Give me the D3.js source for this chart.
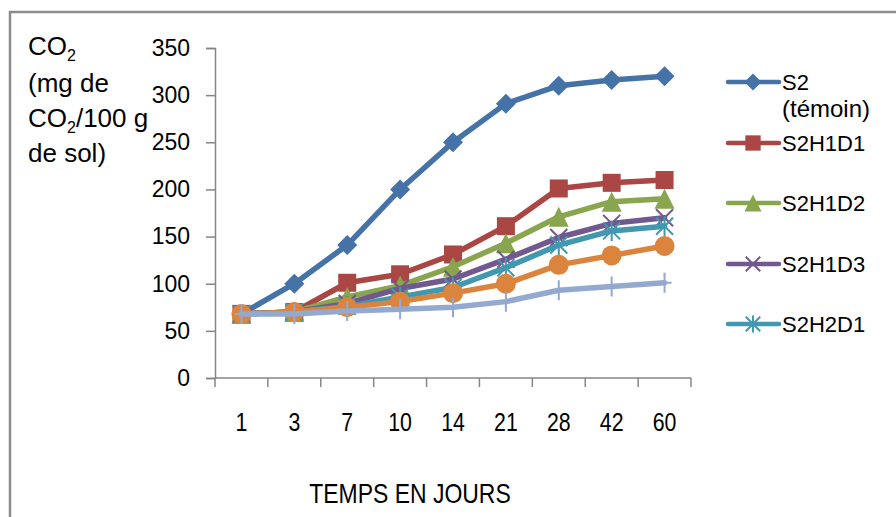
<!DOCTYPE html>
<html>
<head>
<meta charset="utf-8">
<script src="https://cdn.jsdelivr.net/npm/d3@7"></script>
<style>
  html, body { margin: 0; padding: 0; background: #fff; }
  svg { display: block; font-family: "Liberation Sans", Arial, sans-serif; }
</style>
</head>
<body>
<svg id="chart" width="896" height="517"></svg>
<script>
// Days of incubation (category axis)
const days = ["1", "3", "7", "10", "14", "21", "28", "42", "60"];

// Cumulative CO2 release (mg CO2 / 100 g soil)
const s2Temoin = [68, 100, 141, 200, 250, 291, 310, 316, 320];
const s2h1d1   = [68, 70, 101, 110, 131, 161, 201, 207, 210];
const s2h1d2   = [68, 70, 86, 98, 118, 143, 171, 187, 190];
const s2h1d3   = [68, 70, 79, 95, 105, 126, 149, 164, 170];
const s2h2d1   = [68, 70, 76, 86, 96, 117, 141, 156, 161];
const s2h2d2   = [68, 70, 75, 81, 90, 100, 120, 130, 140];
const s2h2d3   = [68, 68, 71, 73, 75, 81, 93, 97, 101];

const yTicks = [0, 50, 100, 150, 200, 250, 300, 350];

const series = [
  { name: "S2\n(témoin)", values: s2Temoin, color: "#4572A7", marker: "diamond", legend: true },
  { name: "S2H1D1", values: s2h1d1, color: "#AA4643", marker: "square", legend: true },
  { name: "S2H1D2", values: s2h1d2, color: "#89A54E", marker: "triangle", legend: true },
  { name: "S2H1D3", values: s2h1d3, color: "#71588F", marker: "x", legend: true },
  { name: "S2H2D1", values: s2h2d1, color: "#4198AF", marker: "star", legend: true },
  { name: "S2H2D2", values: s2h2d2, color: "#DB843D", marker: "circle", legend: false },
  { name: "S2H2D3", values: s2h2d3, color: "#93A9CF", marker: "plus", legend: false }
];

const svg = d3.select("#chart");

// Outer chart frame (extends past the right and bottom edges)
svg.append("path")
  .attr("d", "M10,530 L10,12 L910,12")
  .attr("fill", "none")
  .attr("stroke", "#8c8c8c")
  .attr("stroke-width", 2.5);

const plot = { left: 215, right: 691, top: 48, bottom: 378 };

const x = d3.scaleBand().domain(days).range([plot.left, plot.right]);
const y = d3.scaleLinear().domain([0, 350]).range([plot.bottom, plot.top]);

// Y axis
const yAxis = svg.append("g")
  .attr("transform", `translate(${plot.left},0)`)
  .call(d3.axisLeft(y).tickValues(yTicks).tickSize(9).tickPadding(16).tickFormat(d3.format("d")));
yAxis.select(".domain").attr("stroke", "#868686").attr("stroke-width", 1.5);
yAxis.selectAll(".tick line").attr("stroke", "#868686").attr("stroke-width", 1.5);
yAxis.selectAll(".tick text")
  .attr("fill", "#000")
  .style("font-size", "23px");

// X axis: ticks on band boundaries, condensed labels at band centres
const xAxisG = svg.append("g").attr("transform", `translate(0,${plot.bottom})`);
xAxisG.append("line")
  .attr("x1", plot.left).attr("x2", plot.right)
  .attr("stroke", "#868686").attr("stroke-width", 1.5);
const boundaries = days.map(d => x(d)).concat([x(days[days.length - 1]) + x.bandwidth()]);
xAxisG.selectAll("line.tk").data(boundaries).enter().append("line")
  .attr("class", "tk")
  .attr("x1", d => d).attr("x2", d => d)
  .attr("y1", 0).attr("y2", 9)
  .attr("stroke", "#868686").attr("stroke-width", 1.5);
xAxisG.selectAll("text").data(days).enter().append("text")
  .attr("transform", d => `translate(${x(d) + x.bandwidth() / 2},53) scale(0.82,1)`)
  .attr("text-anchor", "middle")
  .style("font-size", "26px")
  .text(d => d);

// Axis titles
svg.append("text")
  .attr("transform", "translate(410,503) scale(0.82,1)")
  .attr("text-anchor", "middle")
  .style("font-size", "28px")
  .text("TEMPS EN JOURS");

const yt = svg.append("g").style("font-size", "26px");
const t1 = yt.append("text").attr("x", 28).attr("y", 55);
t1.append("tspan").text("CO");
t1.append("tspan").attr("dy", 6).style("font-size", "16px").text("2");
yt.append("text").attr("x", 28).attr("y", 92).text("(mg de");
const t3 = yt.append("text").attr("x", 28).attr("y", 127);
t3.append("tspan").text("CO");
t3.append("tspan").attr("dy", 6).style("font-size", "16px").text("2");
t3.append("tspan").attr("dy", -6).text("/100 g");
yt.append("text").attr("x", 28).attr("y", 162).text("de sol)");

// Marker shapes
function drawMarker(g, type, color, s) {
  const h = s / 2;
  if (type === "diamond") {
    g.append("path").attr("d", `M0,${-h} L${h},0 L0,${h} L${-h},0 Z`).attr("fill", color);
  } else if (type === "square") {
    const q = h * 0.9;
    g.append("rect").attr("x", -q).attr("y", -q).attr("width", 2 * q).attr("height", 2 * q).attr("fill", color);
  } else if (type === "triangle") {
    g.append("path").attr("d", `M0,${-h} L${h},${h} L${-h},${h} Z`).attr("fill", color);
  } else if (type === "circle") {
    g.append("circle").attr("r", h).attr("fill", color);
  } else if (type === "x") {
    const q = h * 0.85;
    g.append("path").attr("d", `M${-q},${-q} L${q},${q} M${-q},${q} L${q},${-q}`)
      .attr("stroke", color).attr("stroke-width", 2).attr("fill", "none");
  } else if (type === "star") {
    const q = h * 0.85;
    g.append("path").attr("d", `M${-q},${-q} L${q},${q} M${-q},${q} L${q},${-q} M0,${-h} L0,${h}`)
      .attr("stroke", color).attr("stroke-width", 2).attr("fill", "none");
  } else if (type === "plus") {
    g.append("path").attr("d", `M0,${-h} L0,${h} M${-h * 0.7},0 L${h * 0.7},0`)
      .attr("stroke", color).attr("stroke-width", 2).attr("fill", "none");
  }
}

const line = d3.line()
  .x((d, i) => x(days[i]) + x.bandwidth() / 2)
  .y(d => y(d));

series.forEach(s => {
  const g = svg.append("g");
  g.append("path")
    .datum(s.values)
    .attr("d", line)
    .attr("fill", "none")
    .attr("stroke", s.color)
    .attr("stroke-width", 5.5)
    .attr("stroke-linejoin", "round")
    .attr("stroke-linecap", "round");
  s.values.forEach((v, i) => {
    const m = g.append("g")
      .attr("transform", `translate(${x(days[i]) + x.bandwidth() / 2},${y(v)})`);
    drawMarker(m, s.marker, s.color, 20);
  });
});

// Legend (first five series)
const legendY = [82, 143, 203, 264, 324];
const legendSeries = series.filter(s => s.legend);
legendSeries.forEach((s, i) => {
  const g = svg.append("g").attr("transform", `translate(0,${legendY[i]})`);
  g.append("line")
    .attr("x1", 728).attr("x2", 779)
    .attr("stroke", s.color).attr("stroke-width", 4.5)
    .attr("stroke-linecap", "round");
  const m = g.append("g").attr("transform", "translate(753,0)");
  drawMarker(m, s.marker, s.color, 17);
  const lines = s.name.split("\n");
  lines.forEach((t, j) => {
    g.append("text")
      .attr("x", 782).attr("y", 8 + j * 27)
      .style("font-size", j === 0 ? "22px" : "24px")
      .text(t);
  });
});
</script>
</body>
</html>
